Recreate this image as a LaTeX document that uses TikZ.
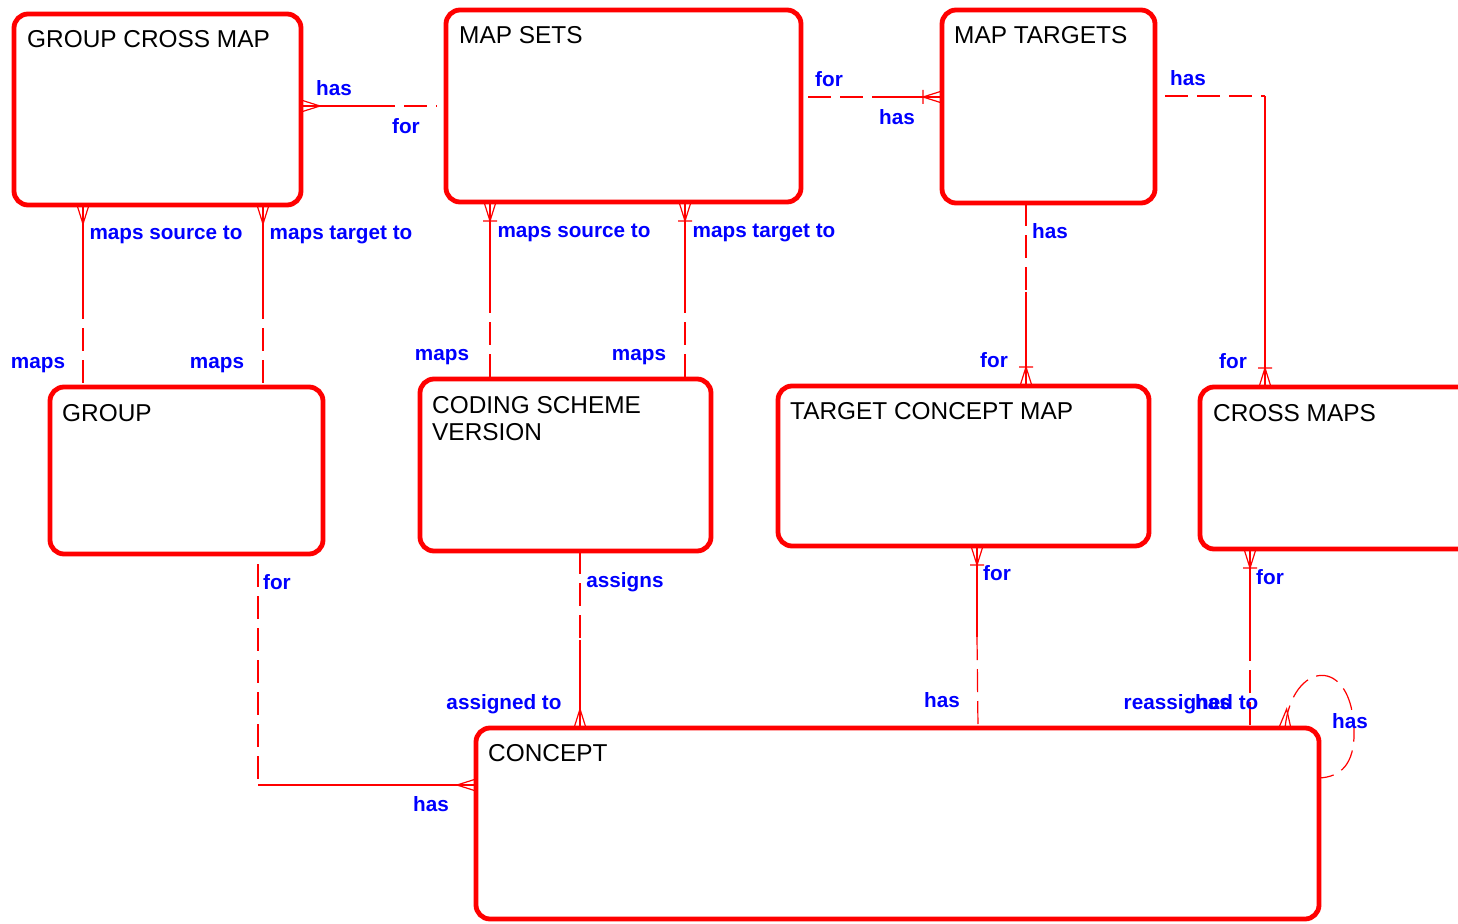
\documentclass[tikz,border=0pt]{standalone}
\usepackage{fontspec}
\setmainfont{Liberation Sans}

\begin{document}
\begin{tikzpicture}[x=1pt,y=-1pt,
  entity/.style={draw=red,line width=4.8pt,rounded corners=14pt,outer sep=0pt,inner sep=0pt,anchor=north west},
  title/.style={anchor=north west,inner sep=0pt,align=left,font=\fontsize{24.4}{27.5}\selectfont},
  rel/.style={draw=red,line width=1.2pt},
  opt/.style={dash pattern=on 23pt off 9pt},
  role/.style={text=blue,inner sep=0pt,font=\fontsize{20.7}{24}\selectfont\bfseries},
  crow/.pic={\draw[rel] (0,-6) -- (19,0) -- (0,6);},
  onecrow/.pic={\draw[rel] (0,-6) -- (19,0) -- (0,6) (19,-7) -- (19,7);}]
  \useasboundingbox (0,0) rectangle (1458,923);
  \clip (0,0) rectangle (1458,923);

  % entities
  \node[entity,minimum width=287pt,minimum height=191pt] (gcm) at (14,14) {};
  \node[entity,minimum width=355pt,minimum height=192pt] (ms) at (446,10) {};
  \node[entity,minimum width=213pt,minimum height=193pt] (mt) at (942,10) {};
  \node[entity,minimum width=273pt,minimum height=167pt] (grp) at (50,387) {};
  \node[entity,minimum width=291pt,minimum height=172pt] (csv) at (420,379) {};
  \node[entity,minimum width=371pt,minimum height=160pt] (tcm) at (778,386) {};
  \node[entity,minimum width=280pt,minimum height=162pt] (cm) at (1200,387) {};
  \node[entity,minimum width=843pt,minimum height=191pt] (con) at (476,728) {};

  \node[title] (gcmtitle) at (27,30) {GROUP CROSS MAP};
  \node[title] (mstitle) at (459,26) {MAP SETS};
  \node[title] (mttitle) at (954,26) {MAP TARGETS};
  \node[title] (grptitle) at (62,404) {GROUP};
  \node[title] (csvtitle) at (432,396) {CODING SCHEME\\VERSION};
  \node[title] (tcmtitle) at (790,402) {TARGET CONCEPT MAP};
  \node[title] (cmtitle) at (1213,404) {CROSS MAPS};
  \node[title] (contitle) at (488,744) {CONCEPT};

  % group cross map -- map sets
  \draw[rel] (gcm.east |- 0,106) -- (372,106);
  \draw[rel,opt,shorten >=9pt] (372,106) -- (ms.west |- 0,106);
  \pic at (gcm.east |- 0,106) {crow};
  \node[role] (gcmhas) at (334,88) {has};
  \node[role] (msfor) at (406,126) {for};

  % map sets -- map targets
  \draw[rel,opt,shorten <=7pt] (ms.east |- 0,97) -- (873,97);
  \draw[rel] (873,97) -- (mt.west |- 0,97);
  \pic[rotate=180] at (mt.west |- 0,97) {onecrow};
  \node[role] (msfor2) at (829,79) {for};
  \node[role] (mthas) at (897,117) {has};

  % map targets -- cross maps
  \draw[rel,opt,shorten <=10pt] (mt.east |- 0,96) -- (1265,96);
  \draw[rel] (1265,96) -- (cm.north -| 1265,0);
  \pic[rotate=90] at (cm.north -| 1265,0) {onecrow};
  \node[role] (mthas2) at (1188,78) {has};
  \node[role] (cmfor) at (1233,361) {for};

  % map targets -- target concept map
  \draw[rel,opt] (mt.south -| 1026,0) -- (1026,292);
  \draw[rel] (1026,292) -- (tcm.north -| 1026,0);
  \pic[rotate=90] at (tcm.north -| 1026,0) {onecrow};
  \node[role] (mthas3) at (1050,231) {has};
  \node[role] (tcmfor) at (994,360) {for};

  % group cross map -- group
  \foreach \x in {83,263}{
    \draw[rel] (gcm.south -| \x,0) -- (\x,296);
    \draw[rel,opt] (\x,296) -- (grp.north -| \x,0);
    \pic[rotate=-90] at (gcm.south -| \x,0) {crow};
  }
  \node[role] (gcmsrc) at (166,235) {maps source to};
  \node[role] (gcmtgt) at (341,235) {maps target to};
  \node[role] (grpmaps) at (38,365) {maps};
  \node[role] (grpmaps2) at (217,365) {maps};

  % map sets -- coding scheme version
  \foreach \x in {490,685}{
    \draw[rel] (ms.south -| \x,0) -- (\x,290);
    \draw[rel,opt] (\x,290) -- (csv.north -| \x,0);
    \pic[rotate=-90] at (ms.south -| \x,0) {onecrow};
  }
  \node[role] (mssrc) at (574,233) {maps source to};
  \node[role] (mstgt) at (764,233) {maps target to};
  \node[role] (csvmaps) at (442,357) {maps};
  \node[role] (csvmaps2) at (639,357) {maps};

  % group -- concept
  \draw[rel,opt,shorten <=10pt] (grp.south -| 258,0) -- (258,785);
  \draw[rel] (258,785) -- (con.west |- 0,785);
  \pic[rotate=180] at (con.west |- 0,785) {crow};
  \node[role] (grpfor) at (277,582) {for};
  \node[role] (conhas) at (431,804) {has};

  % coding scheme version -- concept
  \draw[rel,opt] (csv.south -| 580,0) -- (580,640);
  \draw[rel] (580,640) -- (con.north -| 580,0);
  \pic[rotate=90] at (con.north -| 580,0) {crow};
  \node[role] (csvassigns) at (625,582) {assigns};
  \node[role] (conassigned) at (504,704) {assigned to};

  % target concept map -- concept
  \draw[rel] (tcm.south -| 977,0) -- (977,637);
  \draw[rel,opt] (977,637) -- (con.north -| 978,0);
  \pic[rotate=-90] at (tcm.south -| 977,0) {onecrow};
  \node[role] (tcmfor2) at (997,573) {for};
  \node[role] (conhas2) at (942,700) {has};

  % cross maps -- concept
  \draw[rel] (cm.south -| 1250,0) -- (1250,638);
  \draw[rel,opt] (1250,638) -- (con.north -| 1250,0);
  \pic[rotate=-90] at (cm.south -| 1250,0) {onecrow};
  \node[role] (cmfor2) at (1270,577) {for};
  \node[role] (conreassigned) at (1191,704) {reassigned to};
  \node[role] (conhas3) at (1213,702) {has};

  % concept -- concept
  \draw[rel,opt] (con.north -| 1285,0) .. controls (1292,660) and (1352,655) .. (1354,730)
    .. controls (1355,765) and (1340,777) .. (con.east |- 0,778);
  \pic[rotate=85] at (con.north -| 1285,0) {crow};
  \node[role] (conhas4) at (1350,721) {has};
\end{tikzpicture}
\end{document}
